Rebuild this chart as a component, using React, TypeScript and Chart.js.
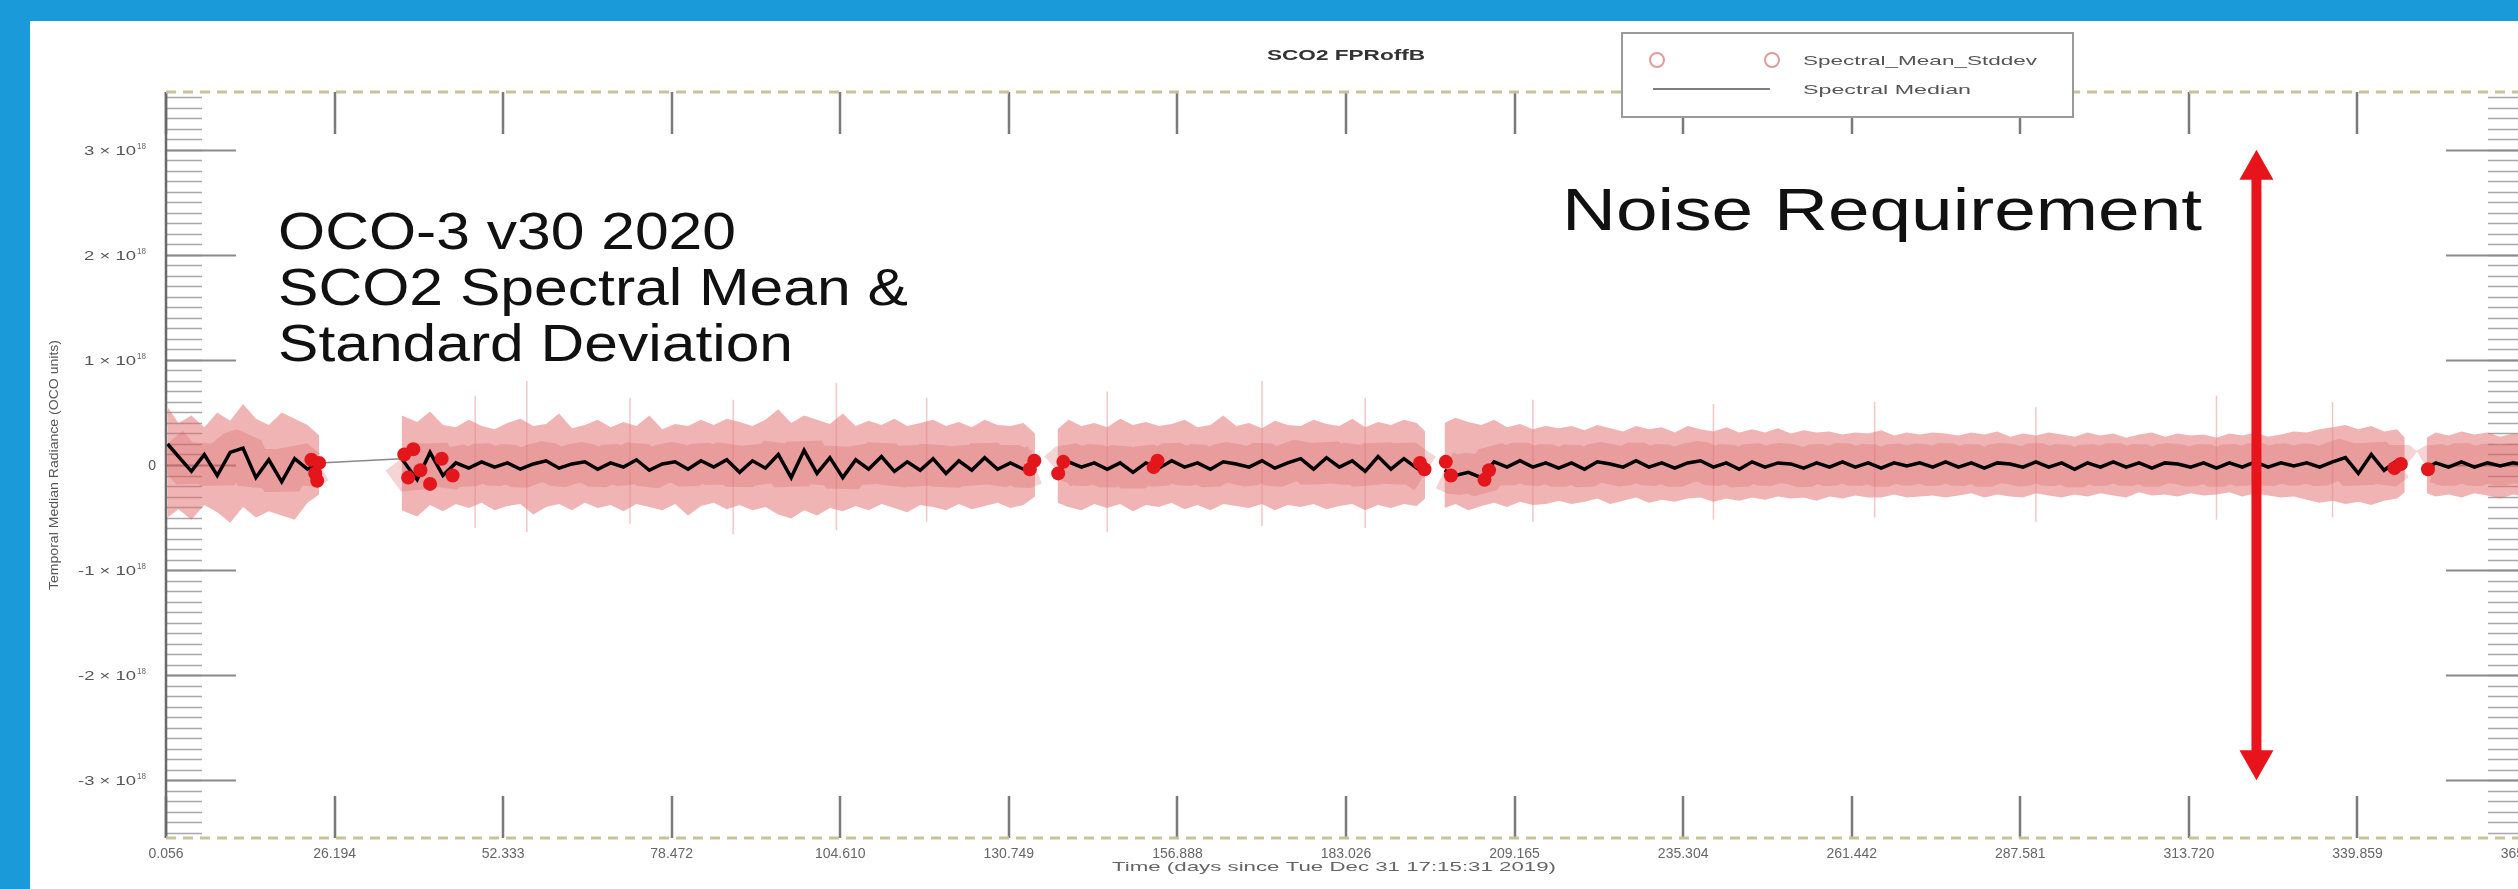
import React, { useEffect, useRef } from 'react';
import { Chart, registerables } from 'chart.js';

Chart.register(...registerables);

// ---------------- data ----------------
const X_TICKS = [0.056, 26.195, 52.333, 78.472, 104.61, 130.749, 156.888, 183.026, 209.165, 235.304, 261.442, 287.581, 313.72, 339.859, 365.997];
const X_TICK_LABELS = ['0.056', '26.194', '52.333', '78.472', '104.610', '130.749', '156.888', '183.026', '209.165', '235.304', '261.442', '287.581', '313.720', '339.859', '365.997'];
const Y_TICKS = [-3, -2, -1, 0, 1, 2, 3];
const Y_TICK_MANTISSA = ['-3', '-2', '-1', '0', '1', '2', '3'];
const Y_EXPONENT = '18';
const Y_MIN = -3.55;
const Y_MAX = 3.55;

const S1_DAYS = [0.3, 2, 4, 6, 8, 10, 12, 14, 16, 18, 20, 22, 23.8];
const S1_MED = [0.2, 0.08, -0.06, 0.1, -0.1, 0.12, 0.16, -0.12, 0.05, -0.16, 0.06, -0.04, 0.02];
const S1_HI = [0.55, 0.4, 0.47, 0.36, 0.5, 0.42, 0.58, 0.44, 0.38, 0.5, 0.44, 0.38, 0.28];
const S1_LO = [-0.5, -0.42, -0.52, -0.38, -0.45, -0.55, -0.4, -0.5, -0.44, -0.48, -0.52, -0.36, -0.28];

const S2_DAYS = [36.6, 39, 41, 43, 45, 47, 49, 51, 53, 55, 57, 59, 61, 63, 65, 67, 69, 71, 73, 75, 77, 79, 81, 83, 85, 87, 89, 91, 93, 95, 97, 99, 101, 103, 105, 107, 109, 111, 113, 115, 117, 119, 121, 123, 125, 127, 129, 131, 133, 134.8];
const S2_MED = [
  0.06, -0.14, 0.12, -0.1, 0.02, -0.03, 0.03, -0.02, 0.02, -0.04,
  0.01, 0.04, -0.03, 0.01, 0.03, -0.04, 0.02, -0.02, 0.05, -0.05,
  0.01, 0.03, -0.04, 0.04, -0.02, 0.05, -0.07, 0.04, -0.03, 0.1,
  -0.12, 0.14, -0.08, 0.07, -0.12, 0.05, -0.04, 0.08, -0.06, 0.03,
  -0.05, 0.06, -0.08, 0.04, -0.05, 0.07, -0.04, 0.02, -0.04, 0.0];
const S2_HI = [
  0.47, 0.41, 0.51, 0.38, 0.36, 0.43, 0.37, 0.34, 0.4, 0.44,
  0.37, 0.39, 0.49, 0.35, 0.38, 0.43, 0.36, 0.41, 0.37, 0.47,
  0.34, 0.39, 0.37, 0.43, 0.38, 0.44, 0.41, 0.37, 0.43, 0.53,
  0.4, 0.47, 0.43, 0.39, 0.49, 0.37, 0.42, 0.38, 0.44, 0.37,
  0.4, 0.43, 0.37, 0.41, 0.36, 0.43, 0.38, 0.37, 0.4, 0.3];
const S2_LO = [
  -0.43, -0.49, -0.38, -0.44, -0.37, -0.41, -0.36, -0.43, -0.39, -0.37,
  -0.47, -0.4, -0.37, -0.43, -0.36, -0.41, -0.38, -0.44, -0.37, -0.4,
  -0.43, -0.37, -0.48, -0.39, -0.36, -0.42, -0.38, -0.43, -0.4, -0.47,
  -0.51, -0.43, -0.48, -0.41, -0.44, -0.39, -0.43, -0.37, -0.41, -0.45,
  -0.38, -0.4, -0.43, -0.37, -0.42, -0.39, -0.36, -0.41, -0.38, -0.3];

const S3_DAYS = [138.3, 140, 142, 144, 146, 148, 150, 152, 154, 156, 158, 160, 162, 164, 166, 168, 170, 172, 174, 176, 178, 180, 182, 184, 186, 188, 190, 192, 194, 195.3];
const S3_MED = [
  -0.06, 0.03, -0.02, 0.02, -0.04, 0.02, -0.07, 0.02, -0.03, 0.04,
  -0.02, 0.02, -0.04, 0.03, 0.01, -0.02, 0.04, -0.03, 0.02, 0.06,
  -0.04, 0.07, -0.02, 0.04, -0.06, 0.08, -0.04, 0.06, -0.03, -0.08];
const S3_HI = [
  0.34, 0.43, 0.37, 0.4, 0.36, 0.44, 0.38, 0.41, 0.37, 0.39,
  0.43, 0.36, 0.38, 0.47, 0.37, 0.4, 0.35, 0.42, 0.38, 0.37,
  0.43, 0.39, 0.37, 0.44, 0.36, 0.41, 0.38, 0.43, 0.4, 0.32];
const S3_LO = [
  -0.36, -0.4, -0.43, -0.37, -0.41, -0.37, -0.44, -0.38, -0.4, -0.36,
  -0.42, -0.38, -0.43, -0.37, -0.39, -0.41, -0.37, -0.43, -0.38, -0.4,
  -0.37, -0.42, -0.39, -0.37, -0.43, -0.38, -0.41, -0.37, -0.39, -0.32];

const S4_DAYS = [198.3, 200, 202, 204, 206, 208, 210, 212, 214, 216, 218, 220, 222, 224, 226, 228, 230, 232, 234, 236, 238, 240, 242, 244, 246, 248, 250, 252, 254, 256, 258, 260, 262, 264, 266, 268, 270, 272, 274, 276, 278, 280, 282, 284, 286, 288, 290, 292, 294, 296, 298, 300, 302, 304, 306, 308, 310, 312, 314, 316, 318, 320, 322, 324, 326, 328, 330, 332, 334, 336, 338, 340, 342, 344, 346, 347.2];
const S4_MED = [
  -0.05, -0.1, -0.07, -0.12, 0.03, -0.02, 0.04, -0.02, 0.02, -0.03,
  0.02, -0.04, 0.03, 0.01, -0.02, 0.04, -0.02, 0.02, -0.03, 0.02,
  0.04, -0.02, 0.02, -0.04, 0.03, -0.02, 0.02, 0.01, -0.03, 0.02,
  -0.02, 0.03, -0.02, 0.02, -0.03, 0.02, -0.01, 0.02, -0.02, 0.03,
  -0.02, 0.02, -0.03, 0.02, 0.01, -0.02, 0.03, -0.02, 0.02, -0.04,
  0.02, -0.02, 0.03, -0.02, 0.02, -0.03, 0.02, 0.01, -0.02, 0.02,
  -0.03, 0.02, -0.02, 0.03, -0.02, 0.02, -0.01, 0.02, -0.02, 0.03,
  0.07, -0.08, 0.1, -0.05, 0.04, -0.02];
const S4_HI = [
  0.4, 0.45, 0.41, 0.38, 0.43, 0.36, 0.39, 0.34, 0.37, 0.35,
  0.37, 0.33, 0.38, 0.35, 0.32, 0.37, 0.34, 0.36, 0.31, 0.37,
  0.34, 0.32, 0.36, 0.31, 0.34, 0.31, 0.35, 0.3, 0.33, 0.31,
  0.32, 0.29, 0.31, 0.3, 0.33, 0.28, 0.31, 0.29, 0.31, 0.3,
  0.28, 0.31, 0.29, 0.32, 0.27, 0.3, 0.28, 0.31, 0.29, 0.27,
  0.31, 0.28, 0.3, 0.26, 0.29, 0.31, 0.27, 0.3, 0.28, 0.29,
  0.26, 0.3, 0.28, 0.31, 0.27, 0.29, 0.32, 0.31, 0.34, 0.36,
  0.38, 0.34, 0.37, 0.32, 0.34, 0.26];
const S4_LO = [
  -0.41, -0.37, -0.43, -0.39, -0.36, -0.4, -0.35, -0.38, -0.37, -0.34,
  -0.37, -0.35, -0.32, -0.37, -0.34, -0.31, -0.36, -0.33, -0.35, -0.32,
  -0.31, -0.35, -0.32, -0.34, -0.31, -0.33, -0.3, -0.32, -0.31, -0.34,
  -0.3, -0.32, -0.29, -0.31, -0.31, -0.28, -0.31, -0.3, -0.29, -0.31,
  -0.29, -0.27, -0.31, -0.28, -0.3, -0.31, -0.27, -0.29, -0.31, -0.28,
  -0.3, -0.27, -0.29, -0.31, -0.26, -0.29, -0.28, -0.3, -0.27, -0.29,
  -0.28, -0.26, -0.3, -0.27, -0.29, -0.31, -0.3, -0.33, -0.36, -0.34,
  -0.37, -0.35, -0.38, -0.34, -0.32, -0.26];

const S5_DAYS = [350.6, 352, 354, 356, 358, 360, 362, 364, 365.9];
const S5_MED = [-0.03, 0.02, -0.02, 0.03, -0.02, 0.02, -0.01, 0.02, 0.0];
const S5_HI = [0.26, 0.31, 0.28, 0.32, 0.29, 0.31, 0.27, 0.3, 0.29];
const S5_LO = [-0.27, -0.3, -0.28, -0.31, -0.27, -0.29, -0.32, -0.28, -0.3];

const GAP_LINK_DAYS = [23.8, 36.6];
const GAP_LINK_VALS = [0.02, 0.06];

const RED_DAYS = [22.6, 23.2, 23.8, 23.5, 37.0, 37.6, 38.4, 39.5, 41.0, 42.8, 44.5, 134.0, 134.7, 138.4, 139.2, 153.2, 153.8, 194.5, 195.2, 198.5, 199.3, 204.5, 205.2, 345.6, 346.6, 350.8];
const RED_VALS = [0.05, -0.08, 0.02, -0.15, 0.1, -0.12, 0.15, -0.05, -0.18, 0.06, -0.1, -0.04, 0.04, -0.08, 0.03, -0.02, 0.04, 0.02, -0.04, 0.03, -0.1, -0.14, -0.05, -0.03, 0.01, -0.04];

const SPIKE_DAYS = [48, 56, 72, 88, 104, 118, 146, 170, 186, 212, 240, 265, 290, 318, 336];
const SPIKE_HI = [0.66, 0.8, 0.64, 0.62, 0.78, 0.64, 0.7, 0.8, 0.64, 0.62, 0.58, 0.6, 0.55, 0.66, 0.6];
const SPIKE_LO = [-0.6, -0.64, -0.56, -0.66, -0.62, -0.54, -0.64, -0.58, -0.6, -0.54, -0.52, -0.5, -0.54, -0.52, -0.5];

const NOISE_REQ = 3.0;
const NOISE_ARROW_DAY = 324.2;

const SEGMENTS = [
  { days: S1_DAYS, med: S1_MED, hi: S1_HI, lo: S1_LO },
  { days: S2_DAYS, med: S2_MED, hi: S2_HI, lo: S2_LO },
  { days: S3_DAYS, med: S3_MED, hi: S3_HI, lo: S3_LO },
  { days: S4_DAYS, med: S4_MED, hi: S4_HI, lo: S4_LO },
  { days: S5_DAYS, med: S5_MED, hi: S5_HI, lo: S5_LO },
];

type Key = 'med' | 'hi' | 'lo';
function buildSeries(key: Key) {
  const pts: { x: number; y: number | null }[] = [];
  SEGMENTS.forEach((s, si) => {
    if (si > 0) {
      const prev = SEGMENTS[si - 1].days;
      pts.push({ x: (prev[prev.length - 1] + s.days[0]) / 2, y: null });
    }
    s.days.forEach((d, i) => {
      const v = s[key][i];
      if (v !== undefined) pts.push({ x: d, y: v });
    });
  });
  return pts;
}

function buildSpikes() {
  const pts: { x: number; y: number | null }[] = [];
  SPIKE_DAYS.forEach((d, i) => {
    pts.push({ x: d, y: SPIKE_LO[i] });
    pts.push({ x: d, y: SPIKE_HI[i] });
    pts.push({ x: d + 0.01, y: null });
  });
  return pts;
}

// ---------------- drawing helpers ----------------
const FONT = "'Liberation Sans', Arial, Helvetica, sans-serif";
const BLUE = '#1b9ad9';

function fitText(ctx: CanvasRenderingContext2D, text: string, x: number, y: number, font: string, width: number | null, align: 'left' | 'center' | 'right', color: string) {
  ctx.save();
  ctx.font = font;
  ctx.fillStyle = color;
  ctx.textBaseline = 'alphabetic';
  ctx.textAlign = 'left';
  const w = ctx.measureText(text).width;
  const sx = width ? width / w : 1;
  const tw = w * sx;
  const x0 = align === 'left' ? x : align === 'center' ? x - tw / 2 : x - tw;
  ctx.translate(x0, y);
  ctx.scale(sx, 1);
  ctx.fillText(text, 0, 0);
  ctx.restore();
}

const decorPlugin = {
  id: 'decor',
  beforeDraw(chart: any) {
    const { ctx, width, height } = chart;
    ctx.save();
    ctx.fillStyle = BLUE;
    ctx.fillRect(0, 0, width, height);
    ctx.fillStyle = '#ffffff';
    ctx.fillRect(30, 21, width - 30, height - 21);
    ctx.restore();
  },
  beforeDatasetsDraw(chart: any) {
    const { ctx, chartArea } = chart;
    const xs = chart.scales.x;
    const ys = chart.scales.y;
    const { left, right, top, bottom } = chartArea;
    ctx.save();
    ctx.strokeStyle = '#a8a8a8';
    ctx.lineWidth = 1.5;
    for (let k = -35; k <= 35; k++) {
      const py = Math.round(ys.getPixelForValue(k / 10)) + 0.5;
      ctx.beginPath();
      ctx.moveTo(left, py);
      ctx.lineTo(left + 36, py);
      ctx.moveTo(right - 38, py);
      ctx.lineTo(right, py);
      ctx.stroke();
    }
    ctx.strokeStyle = '#8a8a8a';
    ctx.lineWidth = 2;
    Y_TICKS.forEach((v) => {
      const py = Math.round(ys.getPixelForValue(v)) + 0.5;
      ctx.beginPath();
      ctx.moveTo(left, py);
      ctx.lineTo(left + 70, py);
      ctx.moveTo(right - 80, py);
      ctx.lineTo(right, py);
      ctx.stroke();
    });
    ctx.strokeStyle = '#7a7a7a';
    ctx.lineWidth = 2.5;
    X_TICKS.forEach((v) => {
      const px = Math.round(xs.getPixelForValue(v));
      ctx.beginPath();
      ctx.moveTo(px, bottom);
      ctx.lineTo(px, bottom - 42);
      ctx.moveTo(px, top);
      ctx.lineTo(px, top + 42);
      ctx.stroke();
    });
    ctx.strokeStyle = '#6a6a6a';
    ctx.lineWidth = 2.5;
    ctx.beginPath();
    ctx.moveTo(left, top);
    ctx.lineTo(left, bottom);
    ctx.moveTo(right, top);
    ctx.lineTo(right, bottom);
    ctx.stroke();
    ctx.strokeStyle = '#c8c29a';
    ctx.lineWidth = 3;
    ctx.setLineDash([10, 7]);
    ctx.beginPath();
    ctx.moveTo(left, top);
    ctx.lineTo(right, top);
    ctx.moveTo(left, bottom);
    ctx.lineTo(right, bottom);
    ctx.stroke();
    ctx.setLineDash([]);
    ctx.restore();
  },
  afterDatasetsDraw(chart: any) {
    const { ctx, chartArea } = chart;
    const xs = chart.scales.x;
    const ys = chart.scales.y;
    const { left, right, top, bottom } = chartArea;

    // y tick labels
    Y_TICKS.forEach((v, i) => {
      const py = ys.getPixelForValue(v);
      const m = Y_TICK_MANTISSA[i];
      if (v === 0) {
        fitText(ctx, '0', left - 10, py + 5, `14px ${FONT}`, null, 'right', '#555');
      } else {
        fitText(ctx, Y_EXPONENT, left - 20, py - 1, `9px ${FONT}`, 9, 'right', '#666');
        fitText(ctx, `${m} × 10`, left - 30, py + 5, `13px ${FONT}`, m.length > 1 ? 58 : 52, 'right', '#555');
      }
    });

    // y title
    ctx.save();
    ctx.translate(54, (top + bottom) / 2);
    ctx.rotate(-Math.PI / 2);
    fitText(ctx, 'Temporal Median Radiance (OCO units)', 0, 4, `12px ${FONT}`, 250, 'center', '#555');
    ctx.restore();

    // x title
    fitText(ctx, 'Time (days since Tue Dec 31 17:15:31 2019)', (left + right) / 2 - 12, 871, `13px ${FONT}`, 444, 'center', '#666');

    // chart title
    fitText(ctx, 'SCO2 FPRoffB', (left + right) / 2, 60, `bold 14px ${FONT}`, 158, 'center', '#333');

    // legend
    ctx.save();
    ctx.fillStyle = '#ffffff';
    ctx.fillRect(1622, 33, 451, 84);
    ctx.strokeStyle = '#9a9a9a';
    ctx.lineWidth = 2;
    ctx.strokeRect(1622, 33, 451, 84);
    ctx.strokeStyle = '#e39a9a';
    ctx.lineWidth = 2;
    [1657, 1772].forEach((cx) => {
      ctx.beginPath();
      ctx.arc(cx, 60, 7, 0, Math.PI * 2);
      ctx.stroke();
    });
    ctx.strokeStyle = '#555';
    ctx.lineWidth = 1.5;
    ctx.beginPath();
    ctx.moveTo(1653, 89);
    ctx.lineTo(1770, 89);
    ctx.stroke();
    ctx.restore();
    fitText(ctx, 'Spectral_Mean_Stddev', 1803, 65, `13px ${FONT}`, 234, 'left', '#555');
    fitText(ctx, 'Spectral Median', 1803, 94, `13px ${FONT}`, 168, 'left', '#555');

    // annotation text
    const big = `52px ${FONT}`;
    fitText(ctx, 'OCO-3 v30 2020', 278, 249, big, 458, 'left', '#111');
    fitText(ctx, 'SCO2 Spectral Mean &', 278, 305, big, 630, 'left', '#111');
    fitText(ctx, 'Standard Deviation', 278, 361, big, 515, 'left', '#111');
    fitText(ctx, 'Noise Requirement', 1562, 230, `60px ${FONT}`, 640, 'left', '#111');

    // noise requirement arrow
    const ax = xs.getPixelForValue(NOISE_ARROW_DAY);
    const ay1 = ys.getPixelForValue(NOISE_REQ);
    const ay2 = ys.getPixelForValue(-NOISE_REQ);
    const hl = 30;
    const hw = 17;
    ctx.save();
    ctx.fillStyle = '#e8141c';
    ctx.fillRect(ax - 5, ay1 + hl - 2, 10, ay2 - ay1 - 2 * hl + 4);
    ctx.beginPath();
    ctx.moveTo(ax, ay1);
    ctx.lineTo(ax + hw, ay1 + hl);
    ctx.lineTo(ax - hw, ay1 + hl);
    ctx.closePath();
    ctx.fill();
    ctx.beginPath();
    ctx.moveTo(ax, ay2);
    ctx.lineTo(ax + hw, ay2 - hl);
    ctx.lineTo(ax - hw, ay2 - hl);
    ctx.closePath();
    ctx.fill();
    ctx.restore();
  },
};

export default function App() {
  const ref = useRef<HTMLCanvasElement>(null);
  useEffect(() => {
    if (!ref.current) return;
    const med = buildSeries('med');
    const chart = new Chart(ref.current, {
      type: 'line',
      data: {
        datasets: [
          { label: 'hi', data: buildSeries('hi'), borderWidth: 0, borderColor: 'rgba(0,0,0,0)', pointRadius: 0, fill: false, order: 6, spanGaps: false } as any,
          { label: 'lo', data: buildSeries('lo'), borderWidth: 0, borderColor: 'rgba(0,0,0,0)', pointRadius: 0, fill: '-1', backgroundColor: 'rgba(226,106,106,0.5)', order: 6, spanGaps: false } as any,
          { label: 'spikes', data: buildSpikes(), borderWidth: 1.5, borderColor: 'rgba(230,130,130,0.45)', pointRadius: 0, fill: false, order: 5, spanGaps: false } as any,
          { label: 'core', data: med, borderWidth: 40, borderColor: 'rgba(210,85,85,0.25)', borderJoinStyle: 'bevel', borderCapStyle: 'butt', pointRadius: 0, fill: false, order: 4, spanGaps: false } as any,
          { label: 'link', data: GAP_LINK_DAYS.map((d, i) => ({ x: d, y: GAP_LINK_VALS[i] })), borderWidth: 1.5, borderColor: '#888', pointRadius: 0, fill: false, order: 3 } as any,
          { label: 'Spectral Median', data: med, borderWidth: 3.5, borderColor: '#000', pointRadius: 0, fill: false, order: 2, spanGaps: false } as any,
          { label: 'Spectral_Mean_Stddev', data: RED_DAYS.map((d, i) => ({ x: d, y: RED_VALS[i] })), showLine: false, pointRadius: 7, pointBackgroundColor: '#e3161b', pointBorderWidth: 0, order: 1 } as any,
        ],
      },
      options: {
        animation: false,
        responsive: false,
        devicePixelRatio: 1,
        layout: { padding: { left: 0, right: 34, top: 92, bottom: 0 } },
        elements: { line: { tension: 0 } },
        plugins: { legend: { display: false }, tooltip: { enabled: false }, title: { display: false } },
        scales: {
          x: {
            type: 'linear',
            min: X_TICKS[0],
            max: X_TICKS[X_TICKS.length - 1],
            offset: false,
            grid: { display: false, drawTicks: false },
            border: { display: false },
            afterBuildTicks: (s: any) => { s.ticks = X_TICKS.map((v) => ({ value: v })); },
            afterFit: (s: any) => { s.height = 51; },
            ticks: {
              autoSkip: false,
              maxRotation: 0,
              padding: 8,
              color: '#666',
              font: { family: FONT, size: 14 },
              callback: (_v: any, i: number) => X_TICK_LABELS[i],
            },
          },
          y: {
            type: 'linear',
            min: Y_MIN,
            max: Y_MAX,
            grid: { display: false, drawTicks: false },
            border: { display: false },
            afterBuildTicks: (s: any) => { s.ticks = Y_TICKS.map((v) => ({ value: v })); },
            afterFit: (s: any) => { s.width = 166; },
            ticks: { display: false },
          },
        },
      } as any,
      plugins: [decorPlugin],
    });
    return () => chart.destroy();
  }, []);
  return (
    <div style={{ position: 'fixed', left: 0, top: 0, width: 2518, height: 889, overflow: 'hidden', background: BLUE }}>
      <canvas ref={ref} width={2560} height={889} style={{ display: 'block', width: 2560, height: 889 }} />
    </div>
  );
}
